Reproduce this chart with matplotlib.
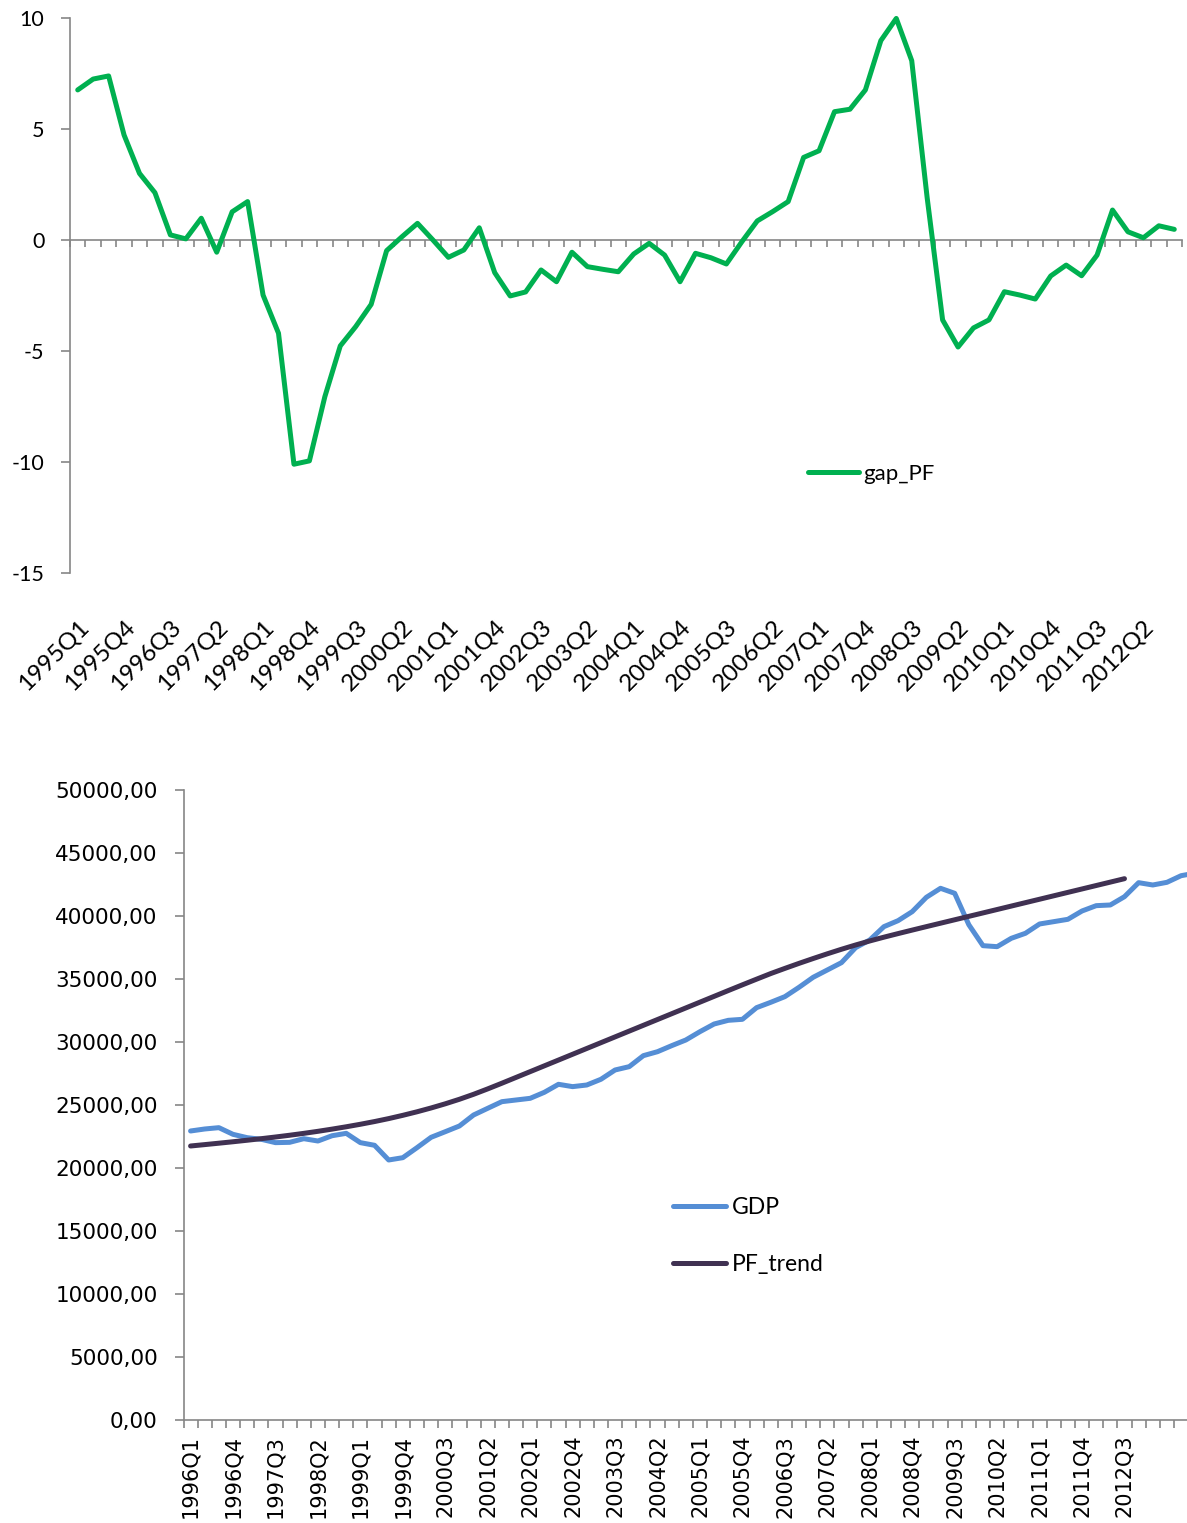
import numpy as np
import matplotlib
matplotlib.use("Agg")
import matplotlib.pyplot as plt

plt.rcParams["axes.unicode_minus"] = False

# --- data ---------------------------------------------------------------

# top chart: output gap of the production function approach, 1995Q1-2012Q4
gap_quarters = [f"{y}Q{q}" for y in range(1995, 2013) for q in range(1, 5)]
gap_pf = [6.76, 7.25, 7.39, 4.73, 3.0, 2.13, 0.23, 0.05, 0.98, -0.55, 1.27, 1.73,
          -2.48, -4.2, -10.1, -9.95, -7.06, -4.77, -3.9, -2.9, -0.48, 0.15, 0.75, 0.0,
          -0.78, -0.45, 0.55, -1.47, -2.52, -2.34, -1.35, -1.88, -0.55, -1.2, -1.32, -1.43,
          -0.63, -0.15, -0.68, -1.88, -0.6, -0.8, -1.08, -0.08, 0.86, 1.28, 1.73, 3.72,
          4.02, 5.78, 5.89, 6.76, 8.98, 9.98, 8.08, 1.9, -3.6, -4.82, -3.96, -3.6,
          -2.33, -2.48, -2.66, -1.62, -1.13, -1.61, -0.68, 1.35, 0.37, 0.1, 0.64, 0.48]

# bottom chart: GDP and PF trend from 1996Q1 (labels stop at 2012Q4)
gdp_quarters = [f"{y}Q{q}" for y in range(1996, 2013) for q in range(1, 5)]
gdp = [22916, 23075, 23180, 22650, 22385, 22255, 21990, 22015, 22305, 22120,
       22540, 22730, 21990, 21780, 20612, 20796, 21590, 22415, 22860, 23313,
       24186, 24718, 25245, 25378, 25510, 25988, 26624, 26439, 26569, 27022,
       27761, 28026, 28900, 29215, 29693, 30144, 30806, 31414, 31706, 31786,
       32712, 33136, 33587, 34329, 35124, 35705, 36287, 37478, 38088, 39146,
       39623, 40338, 41478, 42193, 41795, 39300, 37635, 37556, 38220, 38618,
       39358, 39543, 39729, 40390, 40813, 40867, 41527, 42640, 42455, 42667,
       43193, 43400]
pf_trend = [21724, 21834, 21946, 22061, 22181, 22306, 22438, 22578, 22728, 22890,
            23065, 23250, 23450, 23665, 23900, 24160, 24440, 24745, 25075, 25435,
            25830, 26260, 26710, 27170, 27630, 28090, 28550, 29010, 29470, 29930,
            30390, 30850, 31310, 31770, 32230, 32690, 33150, 33610, 34070, 34525,
            34975, 35420, 35830, 36230, 36615, 36990, 37350, 37690, 38010, 38310,
            38595, 38873, 39148, 39420, 39692, 39964, 40236, 40508, 40780, 41052,
            41324, 41596, 41868, 42140, 42412, 42684, 42956]

GREEN = "#00B050"
BLUE = "#558ED5"
PURPLE = "#403152"
GRAY = "#868686"
XL_FONT = ["Lato", "DejaVu Sans"]

W, H = 1187, 1523
fig = plt.figure(figsize=(W / 100, H / 100), dpi=100)


def px_axes(left, top, right, bottom):
    # axes placed in pixel coordinates of the final image
    return fig.add_axes([left / W, 1 - bottom / H, (right - left) / W, (bottom - top) / H])


# ---------------- top chart ----------------
ax1 = px_axes(70, 18, 1182, 573)
n1 = len(gap_pf)
ax1.plot(range(n1), gap_pf, color=GREEN, lw=3.6, solid_joinstyle="round",
         solid_capstyle="round", clip_on=False, zorder=3, label="gap_PF")
ax1.set_xlim(-0.5, n1 - 0.5)
ax1.set_ylim(-15, 10)
ax1.set_yticks(range(-15, 11, 5))
for s in ["top", "right"]:
    ax1.spines[s].set_visible(False)
ax1.spines["left"].set_color(GRAY)
ax1.spines["left"].set_linewidth(1.2)
ax1.spines["bottom"].set_position(("data", 0))
ax1.spines["bottom"].set_color(GRAY)
ax1.spines["bottom"].set_linewidth(1.2)
ax1.set_xticks([])
ax1.set_xticks(np.arange(-0.5, n1), minor=True)
ax1.tick_params(axis="x", which="minor", length=5, width=1.2, color=GRAY, direction="out")
ax1.tick_params(axis="y", length=6.5, width=1.2, color=GRAY, pad=12)
for lab in ax1.get_yticklabels():
    lab.set_fontfamily(XL_FONT)
    lab.set_fontsize(15.5)

# labels sit low, under the plot area, while the tick marks stay on the zero line
sec = ax1.secondary_xaxis("bottom")
sec.set_xticks(range(0, n1, 3))
sec.set_xticklabels(gap_quarters[::3], rotation=45, ha="right", va="top",
                    rotation_mode="anchor", fontsize=17.5, family=XL_FONT)
sec.tick_params(length=0, pad=31)
sec.spines["bottom"].set_visible(False)

ax1.legend(loc="center left", bbox_to_anchor=(808 / W, 1 - 474 / H),
           bbox_transform=fig.transFigure, frameon=False, borderpad=0,
           borderaxespad=0, handlelength=2.3, handletextpad=0.2,
           prop={"family": XL_FONT, "size": 16})

# ---------------- bottom chart ----------------
n2 = len(gdp)
step = 14.15
ax2 = px_axes(183.5, 790, 183.5 + n2 * step, 1419.5)
ax2.plot(range(n2), gdp, color=BLUE, lw=3.6, solid_joinstyle="round",
         solid_capstyle="round", label="GDP")
ax2.plot(range(len(pf_trend)), pf_trend, color=PURPLE, lw=3.6,
         solid_joinstyle="round", solid_capstyle="round", label="PF_trend")
ax2.set_xlim(-0.5, n2 - 0.5)
ax2.set_ylim(0, 50000)
yt = list(range(0, 50001, 5000))
ax2.set_yticks(yt)
ax2.set_yticklabels([f"{v},00" for v in yt], fontsize=15.5, family="DejaVu Sans")
for s in ["top", "right"]:
    ax2.spines[s].set_visible(False)
for s in ["left", "bottom"]:
    ax2.spines[s].set_color(GRAY)
    ax2.spines[s].set_linewidth(1.2)
ax2.set_xticks(range(0, len(gdp_quarters), 3))
ax2.set_xticklabels(gdp_quarters[::3], rotation=90, fontsize=15, family="DejaVu Sans")
ax2.set_xticks(np.arange(-0.5, n2), minor=True)
ax2.tick_params(axis="x", which="major", length=0, pad=11)
ax2.tick_params(axis="x", which="minor", length=6, width=1.2, color=GRAY)
ax2.tick_params(axis="y", length=6.5, width=1.2, color=GRAY, pad=12)

ax2.legend(loc="center left", bbox_to_anchor=(673 / W, 1 - 1236 / H),
           bbox_transform=fig.transFigure, frameon=False, borderpad=0,
           borderaxespad=0, handlelength=2.3, handletextpad=0.25,
           labelspacing=1.6, prop={"family": XL_FONT, "size": 16.5})

fig.savefig("out.png", dpi=100)
